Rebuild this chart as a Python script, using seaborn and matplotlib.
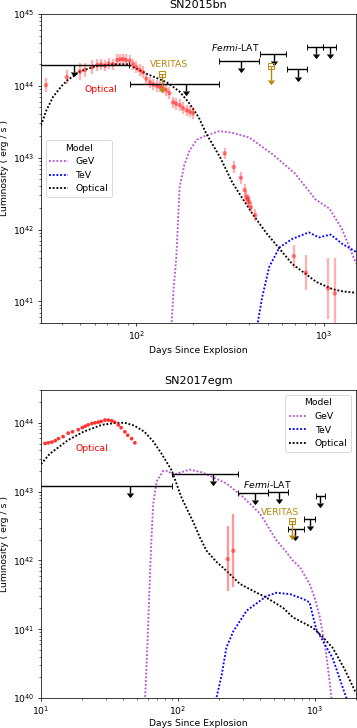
import numpy as np
import pandas as pd
import seaborn as sns
import matplotlib.pyplot as plt

# ---------------- SN2015bn ----------------
bn_opt_days = [31, 33, 36, 40, 43, 50, 60, 75, 90, 100, 115, 145, 170, 191, 215, 235, 280,
               325, 370, 415, 493, 580, 677, 800, 910, 1110, 1250, 1480]
bn_opt_logL = [43.45, 43.65, 43.85, 44.0, 44.08, 44.20, 44.27, 44.30, 44.30, 44.24, 44.16,
               44.05, 43.92, 43.76, 43.56, 43.34, 43.0, 42.65, 42.42, 42.22, 41.95, 41.73,
               41.52, 41.38, 41.27, 41.17, 41.14, 41.12]
bn_gev_days = [150, 154, 158, 163, 170, 180, 192, 210, 235, 277, 320, 400, 530, 700, 900,
               1070, 1250, 1480]
bn_gev_logL = [40.3, 40.7, 41.2, 41.6, 42.6, 42.9, 43.10, 43.25, 43.31, 43.37, 43.35, 43.28,
               43.05, 42.78, 42.42, 42.29, 42.0, 41.53]
bn_tev_days = [430, 443, 468, 510, 578, 677, 830, 940, 1085, 1250, 1480]
bn_tev_logL = [40.4, 40.7, 41.06, 41.48, 41.75, 41.87, 41.96, 41.89, 41.93, 41.80, 41.69]

bn_data_days = [33, 42.5, 50, 53, 58, 62, 65, 68, 71, 75, 79, 82, 85, 88, 92, 96, 100, 104,
                108, 113, 118, 123, 128, 133, 138, 144, 150, 157, 163, 170, 177, 185, 192,
                200, 295, 330, 360, 377, 385, 393, 400, 407, 430, 690, 800, 1050, 1140]
bn_data_logL = [44.01, 44.12, 44.20, 44.22, 44.26, 44.29, 44.30, 44.28, 44.31, 44.30, 44.36,
                44.37, 44.37, 44.36, 44.35, 44.30, 44.26, 44.22, 44.19, 44.10, 44.05, 44.02,
                44.00, 43.99, 43.98, 43.94, 43.90, 43.77, 43.75, 43.73, 43.69, 43.66, 43.64,
                43.62, 43.06, 42.87, 42.72, 42.55, 42.45, 42.42, 42.38, 42.31, 42.20, 41.63,
                41.40, 41.18, 41.11]
bn_data_elo = [0.10, 0.10, 0.12, 0.10, 0.10] + [0.08] * 38 + [0.16, 0.24, 0.42, 0.41]
bn_data_ehi = [0.10, 0.10, 0.12, 0.10, 0.10] + [0.08] * 38 + [0.16, 0.24, 0.42, 0.49]

bn_lim_lo = [24, 92, 275, 458, 638, 815, 985]
bn_lim_hi = [91, 275, 452, 630, 815, 985, 1160]
bn_lim_day = [46.4, 183, 363, 542, 728, 903, 1076]
bn_lim_logL = [44.29, 44.03, 44.35, 44.45, 44.23, 44.54, 44.54]
bn_ver_days = [137, 521]
bn_ver_logL = [44.17, 44.28]

# ---------------- SN2017egm ----------------
egm_opt_days = [10, 11.6, 15.8, 20.4, 27.7, 35.6, 41, 48, 57, 66, 76, 90, 106, 115, 130, 145,
                162, 191, 226, 283, 360, 443, 587, 695, 830, 970, 1150, 1350, 1650, 2000]
egm_opt_logL = [43.40, 43.55, 43.75, 43.87, 43.97, 44.0, 44.0, 43.96, 43.87, 43.73, 43.55,
                43.31, 42.92, 42.77, 42.55, 42.33, 42.14, 41.98, 41.85, 41.66, 41.55, 41.46,
                41.31, 41.17, 41.09, 41.02, 40.88, 40.73, 40.42, 40.07]
egm_gev_days = [57, 60, 62, 64, 66, 70, 78, 85, 92, 105, 122, 150, 226, 300, 398, 525, 620,
                690, 780, 915, 1000, 1090, 1200, 1290, 1340]
egm_gev_logL = [39.8, 40.8, 41.6, 42.29, 42.82, 43.15, 43.30, 43.30, 43.24, 43.28, 43.32,
                43.28, 43.12, 42.92, 42.68, 42.29, 42.12, 42.0, 41.90, 41.66, 41.45, 41.17,
                40.70, 40.2, 39.9]
egm_tev_days = [185, 191, 209, 226, 254, 318, 443, 525, 660, 822, 915, 1025, 1350, 1700, 1760]
egm_tev_logL = [39.8, 40.0, 40.34, 40.73, 40.97, 41.27, 41.48, 41.53, 41.51, 41.44, 41.39,
                41.0, 40.58, 40.0, 39.9]

egm_data_days = [10.7, 11.3, 12.0, 12.7, 13.4, 14.5, 15.8, 17.0, 18.7, 20.0, 21.0, 22.1, 23.5,
                 24.8, 26.2, 27.5, 29.3, 31.0, 32.8, 34.5, 36.7, 38.5, 41.0, 43.0, 45.9, 48.5]
egm_data_logL = [43.70, 43.71, 43.72, 43.74, 43.77, 43.80, 43.85, 43.87, 43.90, 43.93, 43.95,
                 43.97, 43.99, 44.00, 44.01, 44.02, 44.04, 44.04, 44.03, 44.01, 43.97, 43.93,
                 43.87, 43.82, 43.77, 43.71]
egm_late_days = [231, 254]
egm_late_logL = [42.02, 42.14]
egm_late_elo = [0.47, 0.53]
egm_late_ehi = [0.48, 0.54]

egm_lim_lo = [8, 90, 276, 455, 638, 832, 1016]
egm_lim_hi = [90, 276, 455, 638, 832, 1000, 1183]
egm_lim_day = [45, 181, 365, 550, 714, 915, 1100]
egm_lim_logL = [43.076, 43.25, 42.98, 42.99, 42.45, 42.60, 42.94]
egm_ver_days = [683]
egm_ver_logL = [42.57]

GEV = "mediumorchid"
TEV = "blue"
GOLD = "darkgoldenrod"
DOTS = (0, (1, 1))


def models(ax, od, ol, gd, gl, td, tl):
    sns.lineplot(x=gd, y=10 ** np.array(gl), color=GEV, ls=DOTS, lw=2, label="GeV", ax=ax)
    sns.lineplot(x=td, y=10 ** np.array(tl), color=TEV, ls=DOTS, lw=2, label="TeV", ax=ax)
    sns.lineplot(x=od, y=10 ** np.array(ol), color="black", ls=DOTS, lw=2, label="Optical", ax=ax)


def limits(ax, lo, hi, day, logL, vday, vlogL):
    d = np.array(day)
    L = 10 ** np.array(logL)
    ax.errorbar(d, L, xerr=[d - np.array(lo), np.array(hi) - d], yerr=L * (1 - 10 ** -0.1),
                uplims=True, fmt="none", color="black", ecolor="black", elinewidth=1.5,
                capsize=3, zorder=4)
    vL = 10 ** np.array(vlogL)
    ax.errorbar(vday, vL, yerr=vL * (1 - 10 ** -0.2), uplims=True, fmt="s", mfc="none",
                ms=6, color=GOLD, ecolor=GOLD, elinewidth=1.5, capsize=3, zorder=5)


def data_points(ax, days, logL, elo, ehi, alpha):
    L = 10 ** np.array(logL)
    lo = L - 10 ** (np.array(logL) - np.array(elo))
    hi = 10 ** (np.array(logL) + np.array(ehi)) - L
    ax.errorbar(days, L, yerr=[lo, hi], fmt="none", ecolor="red", alpha=alpha, elinewidth=2.5, zorder=3)
    df = pd.DataFrame({"day": days, "L": L})
    sns.scatterplot(data=df, x="day", y="L", color="red", alpha=0.45, s=22, edgecolor="none",
                    ax=ax, zorder=3)


def finish(ax, title, xlim, ylim, pad=4):
    ax.set_xscale("log")
    ax.set_yscale("log")
    ax.set_xlim(*xlim)
    ax.set_ylim(*ylim)
    ax.set_title(title, fontsize=12)
    ax.set_xlabel("Days Since Explosion", labelpad=pad)
    ax.set_ylabel("Luminosity ( erg / s )")


W, H = 357 / 67, 728 / 67
fig = plt.figure(figsize=(W, H), dpi=67)
ax1 = fig.add_axes([41 / 357, 1 - 323 / 728, 315 / 357, 309 / 728])
ax2 = fig.add_axes([41 / 357, 1 - 698 / 728, 315 / 357, 308 / 728])

# top panel
models(ax1, bn_opt_days, bn_opt_logL, bn_gev_days, bn_gev_logL, bn_tev_days, bn_tev_logL)
data_points(ax1, bn_data_days, bn_data_logL, bn_data_elo, bn_data_ehi, 0.3)
limits(ax1, bn_lim_lo, bn_lim_hi, bn_lim_day, bn_lim_logL, bn_ver_days, bn_ver_logL)
ax1.text(65, 10 ** 43.95, "Optical", color="red", ha="center", va="center")
ax1.text(149, 10 ** 44.30, "VERITAS", color=GOLD, ha="center", va="center")
ax1.text(339, 10 ** 44.53, r"$\it{Fermi}$-LAT", color="black", ha="center", va="center")
finish(ax1, "SN2015bn", (31, 1480), (5e40, 1e45))
ax1.legend(title="Model", loc="center left")

# bottom panel
models(ax2, egm_opt_days, egm_opt_logL, egm_gev_days, egm_gev_logL, egm_tev_days, egm_tev_logL)
sns.scatterplot(x=egm_data_days, y=10 ** np.array(egm_data_logL), color="red", s=16,
                edgecolor="none", alpha=0.8, ax=ax2, zorder=3)
data_points(ax2, egm_late_days, egm_late_logL, egm_late_elo, egm_late_ehi, 0.4)
limits(ax2, egm_lim_lo, egm_lim_hi, egm_lim_day, egm_lim_logL, egm_ver_days, egm_ver_logL)
ax2.text(23.5, 10 ** 43.63, "Optical", color="red", ha="center", va="center")
ax2.text(558, 10 ** 42.69, "VERITAS", color=GOLD, ha="center", va="center")
ax2.text(449, 10 ** 43.10, r"$\it{Fermi}$-LAT", color="black", ha="center", va="center")
finish(ax2, "SN2017egm", (10, 2000), (1e40, 3e44), pad=1.5)
ax2.legend(title="Model", loc="upper right")

fig.savefig("out.png", dpi=67)
